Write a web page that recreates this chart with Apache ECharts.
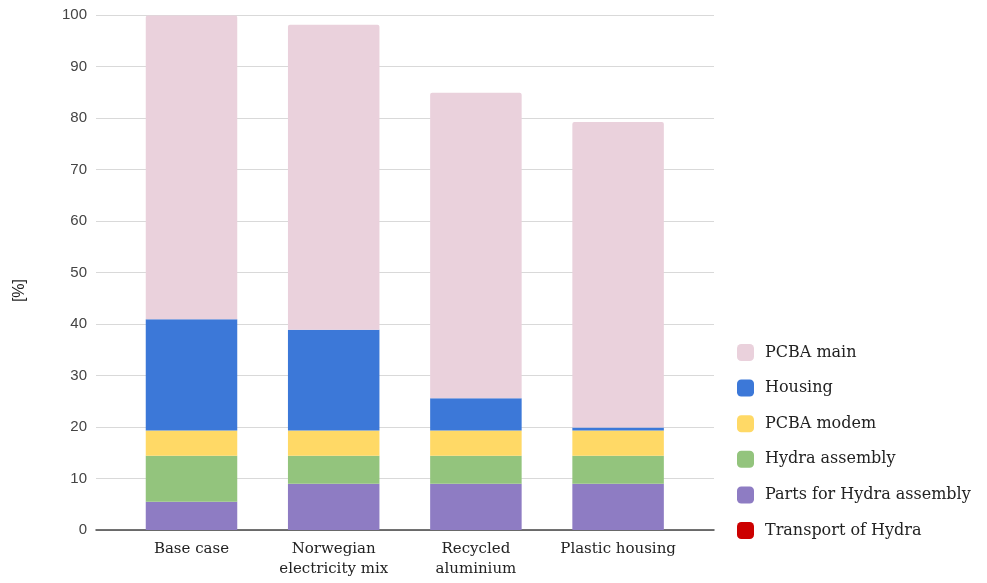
<!DOCTYPE html>
<html>
<head>
<meta charset="utf-8">
<script src="https://cdn.jsdelivr.net/npm/echarts@6/dist/echarts.min.js"></script>
<style>
  html, body { margin: 0; padding: 0; background: #fff; }
  #chart { width: 987px; height: 583px; }
</style>
</head>
<body>
<div id="chart"></div>
<script>
// Scenario categories along the x axis
const categories = ['Base case', 'Norwegian\nelectricity mix', 'Recycled\naluminium', 'Plastic housing'];

// Contribution of each life-cycle part, in percent of the base case total
const transportOfHydra = [0, 0, 0, 0];
const partsForHydraAssembly = [5.5, 9.0, 9.0, 9.0];
const hydraAssembly = [8.9, 5.4, 5.4, 5.4];
const pcbaModem = [4.9, 4.9, 4.9, 4.9];
const housing = [21.6, 19.6, 6.3, 0.6];
const pcbaMain = [59.0, 59.2, 59.3, 59.3];

// Value axis ticks
const yTicks = [0, 10, 20, 30, 40, 50, 60, 70, 80, 90, 100];

const serif = '"DejaVu Serif", serif';
const sans = '"Liberation Sans", Arial, sans-serif';

const stacked = [
  { name: 'Transport of Hydra', data: transportOfHydra, color: '#cc0000' },
  { name: 'Parts for Hydra assembly', data: partsForHydraAssembly, color: '#8e7cc3' },
  { name: 'Hydra assembly', data: hydraAssembly, color: '#93c47d' },
  { name: 'PCBA modem', data: pcbaModem, color: '#ffd966' },
  { name: 'Housing', data: housing, color: '#3c78d8' },
  { name: 'PCBA main', data: pcbaMain, color: '#ead1dc' }
];

const chart = echarts.init(document.getElementById('chart'), null, { renderer: 'canvas' });

chart.setOption({
  animation: false,
  backgroundColor: '#ffffff',
  grid: [
    // frame carrying the gridlines and the baseline
    { left: 96, right: 273, top: 15, bottom: 53 },
    // frame carrying the bars
    { left: 120.4, width: 568.8, top: 15, bottom: 53 }
  ],
  xAxis: [
    {
      gridIndex: 0, type: 'value', min: 0, max: 1,
      axisLine: { show: true, onZero: false, lineStyle: { color: '#444', width: 1.5 } },
      axisTick: { show: false }, axisLabel: { show: false }, splitLine: { show: false }
    },
    {
      gridIndex: 1, type: 'category', data: categories,
      axisLine: { show: false }, axisTick: { show: false },
      axisLabel: {
        margin: 9, fontFamily: serif, fontSize: 15, color: '#222', lineHeight: 20,
        interval: 0
      }
    }
  ],
  yAxis: [
    {
      gridIndex: 0, type: 'value', min: yTicks[0], max: yTicks[yTicks.length - 1], interval: 10,
      axisLine: { show: false }, axisTick: { show: false },
      axisLabel: { margin: 9, fontFamily: sans, fontSize: 15, color: '#444' },
      splitLine: { lineStyle: { color: '#d9d9d9', width: 1 } }
    },
    {
      gridIndex: 1, type: 'value', min: 0, max: 100, show: false,
      splitLine: { show: false }
    }
  ],
  legend: {
    orient: 'vertical',
    left: 737,
    top: 344,
    padding: 0,
    itemWidth: 17,
    itemHeight: 17,
    itemGap: 18.6,
    icon: 'roundRect',
    data: ['PCBA main', 'Housing', 'PCBA modem', 'Hydra assembly', 'Parts for Hydra assembly', 'Transport of Hydra'],
    textStyle: { fontFamily: serif, fontSize: 16, color: '#222', padding: [0, 0, 0, 6] }
  },
  graphic: [
    {
      type: 'text',
      left: 12,
      top: 279,
      rotation: Math.PI / 2,
      style: { text: '[%]', font: '16px "Liberation Sans", Arial, sans-serif', fill: '#222' }
    }
  ],
  series: stacked.map(function (s, i) {
    return {
      name: s.name,
      type: 'bar',
      stack: 'total',
      xAxisIndex: 1,
      yAxisIndex: 1,
      barWidth: 91.5,
      data: s.data,
      itemStyle: {
        color: s.color,
        borderRadius: i === stacked.length - 1 ? [2, 2, 0, 0] : 0
      },
      emphasis: { disabled: true }
    };
  })
});
</script>
</body>
</html>
